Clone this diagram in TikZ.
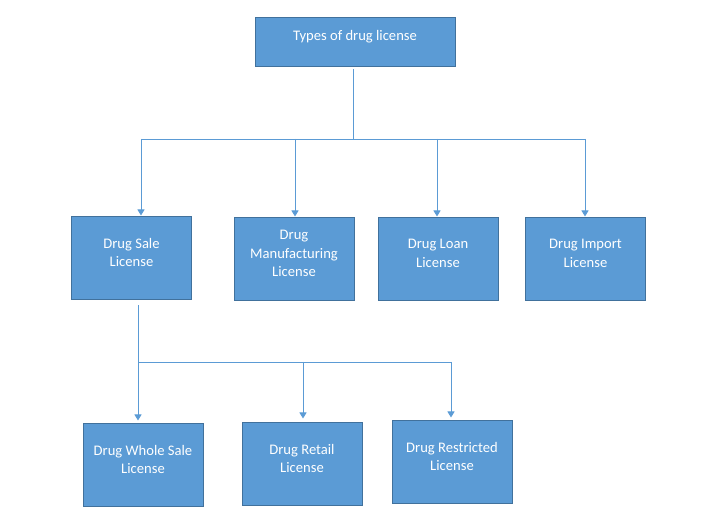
\documentclass[tikz,border=0pt]{standalone}
\usepackage{fontspec}
\setmainfont{Carlito}
\usetikzlibrary{arrows.meta}
\definecolor{boxfill}{HTML}{5B9BD5}
\definecolor{boxline}{HTML}{41719C}
\definecolor{connc}{HTML}{5B9BD5}
\tikzset{
  lic/.style={draw=boxline, fill=boxfill, line width=1pt, minimum width=120pt, minimum height=83pt, inner sep=0pt},
  txt/.style={text=white, font=\fontsize{14.6pt}{18.7pt}\selectfont, align=center, yshift=6pt},
  conn/.style={draw=connc, line width=0.9pt},
  arr/.style={conn, -{Triangle[width=7pt,length=6pt]}}
}
\begin{document}
\begin{tikzpicture}[x=1pt,y=-1pt]
\useasboundingbox (0,0) rectangle (710,526);
\node[lic, minimum width=200pt, minimum height=49pt, label={[txt]center:Types of drug license}] (top) at (355,42.5) {};
\node[lic, label={[txt]center:Drug Sale\\License}] (sale) at (131.5,258.5) {};
\node[lic, label={[txt]center:Drug\\Manufacturing\\License}] (manu) at (294,259.5) {};
\node[lic, label={[txt]center:Drug Loan\\License}] (loan) at (438,259.5) {};
\node[lic, label={[txt]center:Drug Import\\License}] (imp) at (585.5,259.5) {};
\node[lic, label={[txt]center:Drug Whole Sale\\License}] (whole) at (143,465.5) {};
\node[lic, label={[txt]center:Drug Retail\\License}] (retail) at (302,464.5) {};
\node[lic, label={[txt]center:Drug Restricted\\License}] (restr) at (452,462.5) {};
\coordinate (j1) at (353,139);
\coordinate (j1L) at (141,139);
\coordinate (j1R) at (586,139);
\draw[conn] ([yshift=-2pt]top.south -| j1) -- (j1);
\draw[conn] (j1L) -- (j1R);
\draw[arr] (j1L) -- ([xshift=9.5pt,yshift=1pt]sale.north);
\draw[arr] ([xshift=1pt]manu.north |- j1L) -- ([xshift=1pt,yshift=1pt]manu.north);
\draw[arr] ([xshift=-1pt]loan.north |- j1L) -- ([xshift=-1pt,yshift=1pt]loan.north);
\draw[arr] ([xshift=-0.5pt]imp.north |- j1L) -- ([xshift=-0.5pt,yshift=1pt]imp.north);
\coordinate (j2) at (138,362);
\coordinate (j2R) at (451,362);
\draw[conn] ([yshift=-5pt]sale.south -| j2) -- (j2);
\draw[conn] (j2) -- (j2R);
\draw[arr] (j2) -- ([xshift=-5pt,yshift=3pt]whole.north);
\draw[arr] ([xshift=1pt]retail.north |- j2) -- ([xshift=1pt,yshift=4pt]retail.north);
\draw[arr] ([xshift=-1pt]restr.north |- j2) -- ([xshift=-1pt,yshift=3pt]restr.north);
\end{tikzpicture}
\end{document}
